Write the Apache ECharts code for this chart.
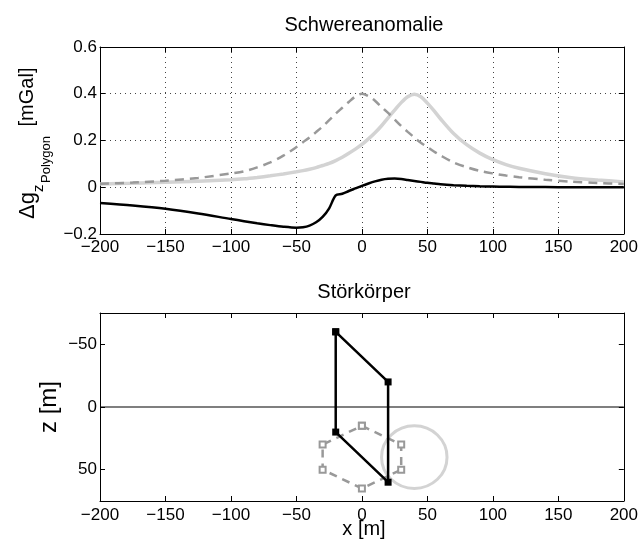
<!DOCTYPE html>
<html>
<head>
<meta charset="utf-8">
<script src="https://cdn.jsdelivr.net/npm/echarts@6/dist/echarts.min.js"></script>
<style>
  html, body { margin: 0; padding: 0; background: #fff; }
  #chart { width: 641px; height: 550px; }
</style>
</head>
<body>
<div id="chart"></div>
<script>
  // Schwereanomalie: x-Positionen der Profilpunkte [m]
  var profileX = [-200, -175, -150, -125, -100, -90, -80, -70, -60, -50, -45, -40, -35, -30, -25, -20,
    -15, -10, -5, 0, 5, 10, 15, 20, 25, 30, 35, 40, 45, 50, 55, 60, 70, 80, 90, 100, 110, 120, 140, 160, 180, 200];
  // Polygon (schwarz)
  var gPolygon = [-0.067, -0.078, -0.092, -0.112, -0.136, -0.145, -0.154, -0.162, -0.169, -0.173, -0.171, -0.164,
    -0.150, -0.127, -0.090, -0.035, -0.028, -0.016, -0.005, 0.006, 0.016, 0.025, 0.032, 0.036, 0.037, 0.035,
    0.031, 0.027, 0.023, 0.019, 0.016, 0.013, 0.009, 0.006, 0.004, 0.003, 0.002, 0.001, 0.001, 0.000, 0.000, 0.000];
  // Sechseck (grau gestrichelt)
  var gHexagon = [0.015, 0.020, 0.028, 0.040, 0.059, 0.068, 0.085, 0.106, 0.135, 0.172, 0.193, 0.213,
    0.236, 0.260, 0.287, 0.315, 0.340, 0.365, 0.388, 0.400, 0.390, 0.370, 0.343, 0.318, 0.290, 0.262,
    0.237, 0.213, 0.190, 0.172, 0.153, 0.136, 0.106, 0.086, 0.070, 0.059, 0.050, 0.043, 0.032, 0.024, 0.018, 0.014];
  // Kreis (hellgrau)
  var gCircle = [0.014, 0.017, 0.021, 0.026, 0.032, 0.036, 0.042, 0.049, 0.057, 0.066, 0.071, 0.077,
    0.084, 0.093, 0.102, 0.114, 0.128, 0.145, 0.163, 0.183, 0.207, 0.233, 0.263, 0.297, 0.330, 0.362,
    0.387, 0.398, 0.387, 0.360, 0.328, 0.293, 0.230, 0.182, 0.146, 0.118, 0.097, 0.081, 0.058, 0.041, 0.031, 0.023];

  // Störkörper: Eckpunkte [x, z]
  var polygonBody = [[-20, -60], [20, -20], [20, 60], [-20, 20], [-20, -60]];
  var hexagonBody = [[0, 15], [30, 30], [30, 50], [0, 65], [-30, 50], [-30, 30], [0, 15]];
  var circleCenter = [40, 40];
  var circleRadius = 25;
  var surfaceLine = [[-200, 0], [200, 0]];

  var depthTicks = [-50, 0, 50];

  var FONT = 'Liberation Sans, Arial, sans-serif';

  function zip(xs, ys) {
    var out = [];
    for (var i = 0; i < xs.length; i++) out.push([xs[i], ys[i]]);
    return out;
  }
  function minus(v) {
    return String(v).replace('-', '\u2212');
  }

  var label = { color: '#000', fontSize: 17, fontFamily: FONT, formatter: minus };
  var tick = { show: true, inside: true, length: 5, lineStyle: { color: '#000', width: 1 } };
  var line = { show: true, onZero: false, lineStyle: { color: '#000', width: 1 } };
  var dotted = { show: true, lineStyle: { color: '#444', width: 1, type: [1, 4] } };

  var chart = echarts.init(document.getElementById('chart'));

  var option = {
    animation: false,
    backgroundColor: '#fff',
    grid: [
      { left: 100, top: 47, width: 527, height: 187 },
      { left: 100, top: 313, width: 527, height: 188 }
    ],
    xAxis: [
      { type: 'value', gridIndex: 0, position: 'bottom', min: -200, max: 200, interval: 50,
        axisLine: line, axisTick: tick, axisLabel: Object.assign({ margin: 5 }, label), splitLine: dotted },
      { type: 'value', gridIndex: 0, position: 'top', min: -200, max: 200, interval: 50,
        axisLine: line, axisTick: tick, axisLabel: { show: false }, splitLine: { show: false } },
      { type: 'value', gridIndex: 1, position: 'bottom', min: -200, max: 200, interval: 50,
        axisLine: line, axisTick: tick, axisLabel: Object.assign({ margin: 6 }, label), splitLine: { show: false } },
      { type: 'value', gridIndex: 1, position: 'top', min: -200, max: 200, interval: 50,
        axisLine: line, axisTick: tick, axisLabel: { show: false }, splitLine: { show: false } }
    ],
    yAxis: [
      { type: 'value', gridIndex: 0, position: 'left', min: -0.2, max: 0.6, interval: 0.2,
        axisLine: line, axisTick: tick, axisLabel: Object.assign({ margin: 3 }, label), splitLine: dotted },
      { type: 'value', gridIndex: 0, position: 'right', min: -0.2, max: 0.6, interval: 0.2,
        axisLine: line, axisTick: tick, axisLabel: { show: false }, splitLine: { show: false } },
      { type: 'value', gridIndex: 1, position: 'left', min: -75, max: 75, inverse: true,
        axisLine: line,
        axisTick: Object.assign({ customValues: depthTicks }, tick),
        axisLabel: Object.assign({ margin: 3, customValues: depthTicks }, label),
        splitLine: { show: false } },
      { type: 'value', gridIndex: 1, position: 'right', min: -75, max: 75, inverse: true,
        axisLine: line,
        axisTick: Object.assign({ customValues: depthTicks }, tick),
        axisLabel: { show: false }, splitLine: { show: false } }
    ],
    graphic: [
      { type: 'text', x: 364, y: 25, style: { text: 'Schwereanomalie', font: '20px ' + FONT, fill: '#000', textAlign: 'center', textVerticalAlign: 'middle' } },
      { type: 'text', x: 364, y: 292, style: { text: 'Störkörper', font: '20px ' + FONT, fill: '#000', textAlign: 'center', textVerticalAlign: 'middle' } },
      { type: 'text', x: 364, y: 529, style: { text: 'x [m]', font: '20px ' + FONT, fill: '#000', textAlign: 'center', textVerticalAlign: 'middle' } },
      { type: 'text', x: 49, y: 407, rotation: Math.PI / 2, style: { text: 'z [m]', font: '24px ' + FONT, fill: '#000', textAlign: 'center', textVerticalAlign: 'middle' } },
      { type: 'text', x: 28, y: 219, rotation: Math.PI / 2, style: { text: '\u0394g', font: '22px ' + FONT, fill: '#000', textAlign: 'left', textVerticalAlign: 'middle' } },
      { type: 'text', x: 39, y: 192, rotation: Math.PI / 2, style: { text: 'z', font: '15px ' + FONT, fill: '#000', textAlign: 'left', textVerticalAlign: 'middle' } },
      { type: 'text', x: 46, y: 183, rotation: Math.PI / 2, style: { text: 'Polygon', font: '13px ' + FONT, fill: '#000', textAlign: 'left', textVerticalAlign: 'middle' } },
      { type: 'text', x: 27, y: 97, rotation: Math.PI / 2, style: { text: '[mGal]', font: '20px ' + FONT, fill: '#000', textAlign: 'center', textVerticalAlign: 'middle' } }
    ],
    series: [
      { name: 'Kreis', type: 'line', xAxisIndex: 0, yAxisIndex: 0, data: zip(profileX, gCircle),
        showSymbol: false, smooth: 0.3, lineStyle: { color: '#d3d3d3', width: 3.5 }, z: 2 },
      { name: 'Sechseck', type: 'line', xAxisIndex: 0, yAxisIndex: 0, data: zip(profileX, gHexagon),
        showSymbol: false, smooth: 0.3, lineStyle: { color: '#999', width: 2.5, type: [9, 6] }, z: 3 },
      { name: 'Polygon', type: 'line', xAxisIndex: 0, yAxisIndex: 0, data: zip(profileX, gPolygon),
        showSymbol: false, smooth: 0.3, lineStyle: { color: '#000', width: 2.5 }, z: 4 },

      { name: 'Oberfläche', type: 'line', xAxisIndex: 2, yAxisIndex: 2, data: surfaceLine,
        showSymbol: false, lineStyle: { color: '#000', width: 1.2 }, z: 1 },
      { name: 'Kreis', type: 'custom', xAxisIndex: 2, yAxisIndex: 2,
        data: [[circleCenter[0], circleCenter[1], circleRadius]],
        encode: { x: 0, y: 1 },
        renderItem: function (params, api) {
          var c = api.coord([api.value(0), api.value(1)]);
          var s = api.size([api.value(2), api.value(2)]);
          return {
            type: 'ellipse',
            shape: { cx: c[0], cy: c[1], rx: Math.abs(s[0]), ry: Math.abs(s[1]) },
            style: { fill: 'none', stroke: '#d3d3d3', lineWidth: 3 }
          };
        }, z: 2 },
      { name: 'Sechseck', type: 'line', xAxisIndex: 2, yAxisIndex: 2, data: hexagonBody,
        symbol: 'emptyRect', symbolSize: 6, showAllSymbol: true,
        itemStyle: { color: '#999', borderWidth: 2 },
        lineStyle: { color: '#999', width: 2.5, type: [8, 6] }, z: 3 },
      { name: 'Polygon', type: 'line', xAxisIndex: 2, yAxisIndex: 2, data: polygonBody,
        symbol: 'rect', symbolSize: 7, showAllSymbol: true,
        itemStyle: { color: '#000' },
        lineStyle: { color: '#000', width: 2.5 }, z: 4 }
    ]
  };

  chart.setOption(option);
</script>
</body>
</html>
